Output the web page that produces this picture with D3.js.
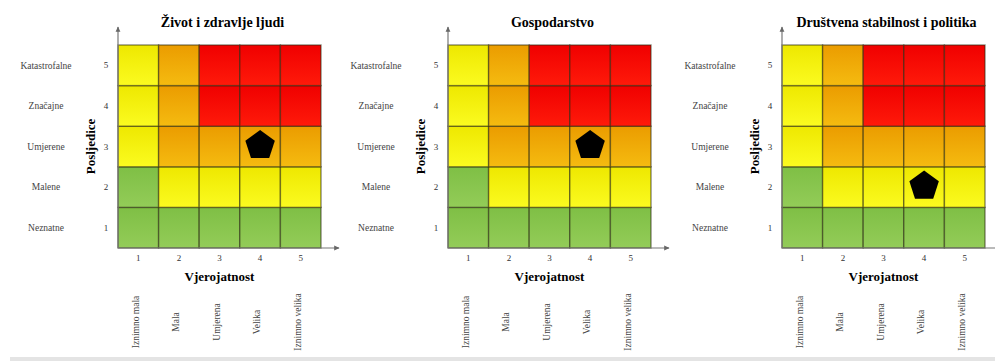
<!DOCTYPE html>
<html>
<head>
<meta charset="utf-8">
<script src="https://cdn.jsdelivr.net/npm/d3@7"></script>
<style>
  body { margin: 0; background: #fff; }
  svg { display: block; font-family: "Liberation Serif", "DejaVu Serif", serif; }
</style>
</head>
<body>
<div id="chart"></div>
<script>
// data
const titles = ["Život i zdravlje ljudi", "Gospodarstvo", "Društvena stabilnost i politika"];
const levels = [1, 2, 3, 4, 5];
const likelihoodLabels = ["Iznimno mala", "Mala", "Umjerena", "Velika", "Iznimno velika"];
const consequenceLabels = ["Neznatne", "Malene", "Umjerene", "Značajne", "Katastrofalne"];
// risk class per row (consequence 1..5), per column (likelihood 1..5)
const riskRows = [
  ["low", "low", "low", "low", "low"],
  ["low", "mid", "mid", "mid", "mid"],
  ["mid", "high", "high", "high", "high"],
  ["mid", "high", "vhigh", "vhigh", "vhigh"],
  ["mid", "high", "vhigh", "vhigh", "vhigh"]
];
const riskLikelihood = [4, 4, 4];
const riskConsequence = [3, 3, 2];

/** CONSTANTS */
const width = 995, height = 361;
const gridLefts = [118, 448, 782];
const gridTop = 45, size = 203;
const colors = {
  low: ["#7fbf45", "#93cc58"],
  mid: ["#eee800", "#fbfb20"],
  high: ["#eb9c00", "#f5bb10"],
  vhigh: ["#f00000", "#ff1a0a"]
};

const svg = d3.select("#chart").append("svg")
  .attr("width", width)
  .attr("height", height);

const defs = svg.append("defs");
Object.entries(colors).forEach(([k, c]) => {
  const gr = defs.append("linearGradient").attr("id", "g-" + k)
    .attr("x1", 0).attr("y1", 0).attr("x2", 0).attr("y2", 1);
  gr.append("stop").attr("offset", "0%").attr("stop-color", c[0]);
  gr.append("stop").attr("offset", "100%").attr("stop-color", c[1]);
});
const mk = defs.append("marker").attr("id", "arrow")
  .attr("viewBox", "0 0 10 10").attr("refX", 8).attr("refY", 5)
  .attr("markerWidth", 5).attr("markerHeight", 5).attr("orient", "auto");
mk.append("path").attr("d", "M0,1L9,5L0,9z").attr("fill", "#666");

// cells as flat list
const cells = [];
riskRows.forEach((row, ri) => row.forEach((r, ci) => cells.push({c: levels[ri], l: levels[ci], risk: r})));

const pentagon = r => d3.line()(d3.range(5).map(i => {
  const a = -Math.PI / 2 + i * 2 * Math.PI / 5;
  return [r * Math.cos(a), r * Math.sin(a)];
})) + "Z";

titles.forEach((title, k) => {
  const left = gridLefts[k];
  const x = d3.scaleBand().domain(levels).range([left, left + size]);
  const y = d3.scaleBand().domain(levels).range([gridTop + size, gridTop]);
  const g = svg.append("g");

  g.selectAll("rect.cell")
    .data(cells)
    .join("rect")
    .attr("class", "cell")
    .attr("x", d => x(d.l))
    .attr("y", d => y(d.c))
    .attr("width", x.bandwidth())
    .attr("height", y.bandwidth())
    .attr("fill", d => `url(#g-${d.risk})`)
    .attr("stroke", "#2a2a10")
    .attr("stroke-opacity", 0.55)
    .attr("stroke-width", 1.4);

  // axes lines with arrows
  g.append("line")
    .attr("x1", left).attr("x2", left)
    .attr("y1", gridTop + size).attr("y2", gridTop - 18)
    .attr("stroke", "#777").attr("stroke-width", 1.2)
    .attr("marker-end", "url(#arrow)");
  g.append("line")
    .attr("x1", left).attr("x2", left + size + 18)
    .attr("y1", gridTop + size).attr("y2", gridTop + size)
    .attr("stroke", "#777").attr("stroke-width", 1.2)
    .attr("marker-end", "url(#arrow)");

  // title
  g.append("text")
    .attr("x", left + size / 2 + 3)
    .attr("y", 27)
    .attr("text-anchor", "middle")
    .attr("font-size", 14)
    .attr("font-weight", "bold")
    .text(title);

  // y tick numbers and category names
  g.selectAll("text.ynum")
    .data(levels)
    .join("text")
    .attr("class", "ynum")
    .attr("x", left - 12)
    .attr("y", d => y(d) + y.bandwidth() / 2)
    .attr("dy", "0.35em")
    .attr("text-anchor", "middle")
    .attr("font-size", 9)
    .attr("fill", "#333")
    .text(d => d);
  g.selectAll("text.yname")
    .data(levels)
    .join("text")
    .attr("class", "yname")
    .attr("x", left - 72)
    .attr("y", d => y(d) + y.bandwidth() / 2)
    .attr("dy", "0.35em")
    .attr("text-anchor", "middle")
    .attr("font-size", 9.5)
    .attr("fill", "#444")
    .text((d, i) => consequenceLabels[i]);

  g.append("text")
    .attr("transform", `translate(${left - 28},${gridTop + size / 2}) rotate(-90)`)
    .attr("dy", "0.35em")
    .attr("text-anchor", "middle")
    .attr("font-size", 13)
    .attr("font-weight", "bold")
    .text("Posljedice");

  // x tick numbers, axis title, rotated names
  g.selectAll("text.xnum")
    .data(levels)
    .join("text")
    .attr("class", "xnum")
    .attr("x", d => x(d) + x.bandwidth() / 2)
    .attr("y", gridTop + size + 13)
    .attr("text-anchor", "middle")
    .attr("font-size", 9)
    .attr("fill", "#333")
    .text(d => d);
  g.append("text")
    .attr("x", left + size / 2)
    .attr("y", 281)
    .attr("text-anchor", "middle")
    .attr("font-size", 13)
    .attr("font-weight", "bold")
    .text("Vjerojatnost");
  g.selectAll("text.xname")
    .data(levels)
    .join("text")
    .attr("class", "xname")
    .attr("transform", d => `translate(${x(d) + x.bandwidth() / 2 - 3},322) rotate(-90)`)
    .attr("dy", "0.35em")
    .attr("text-anchor", "middle")
    .attr("font-size", 9.5)
    .attr("fill", "#444")
    .text((d, i) => likelihoodLabels[i]);

  // risk marker
  g.append("path")
    .attr("d", pentagon(15.5))
    .attr("transform", `translate(${x(riskLikelihood[k]) + x.bandwidth() / 2},${y(riskConsequence[k]) + y.bandwidth() / 2 - 1})`)
    .attr("fill", "#000");
});

// faint strip at the bottom edge
svg.append("rect")
  .attr("x", 10).attr("y", 357).attr("width", width - 10).attr("height", 4)
  .attr("fill", "#e4e4e4");
</script>
</body>
</html>
